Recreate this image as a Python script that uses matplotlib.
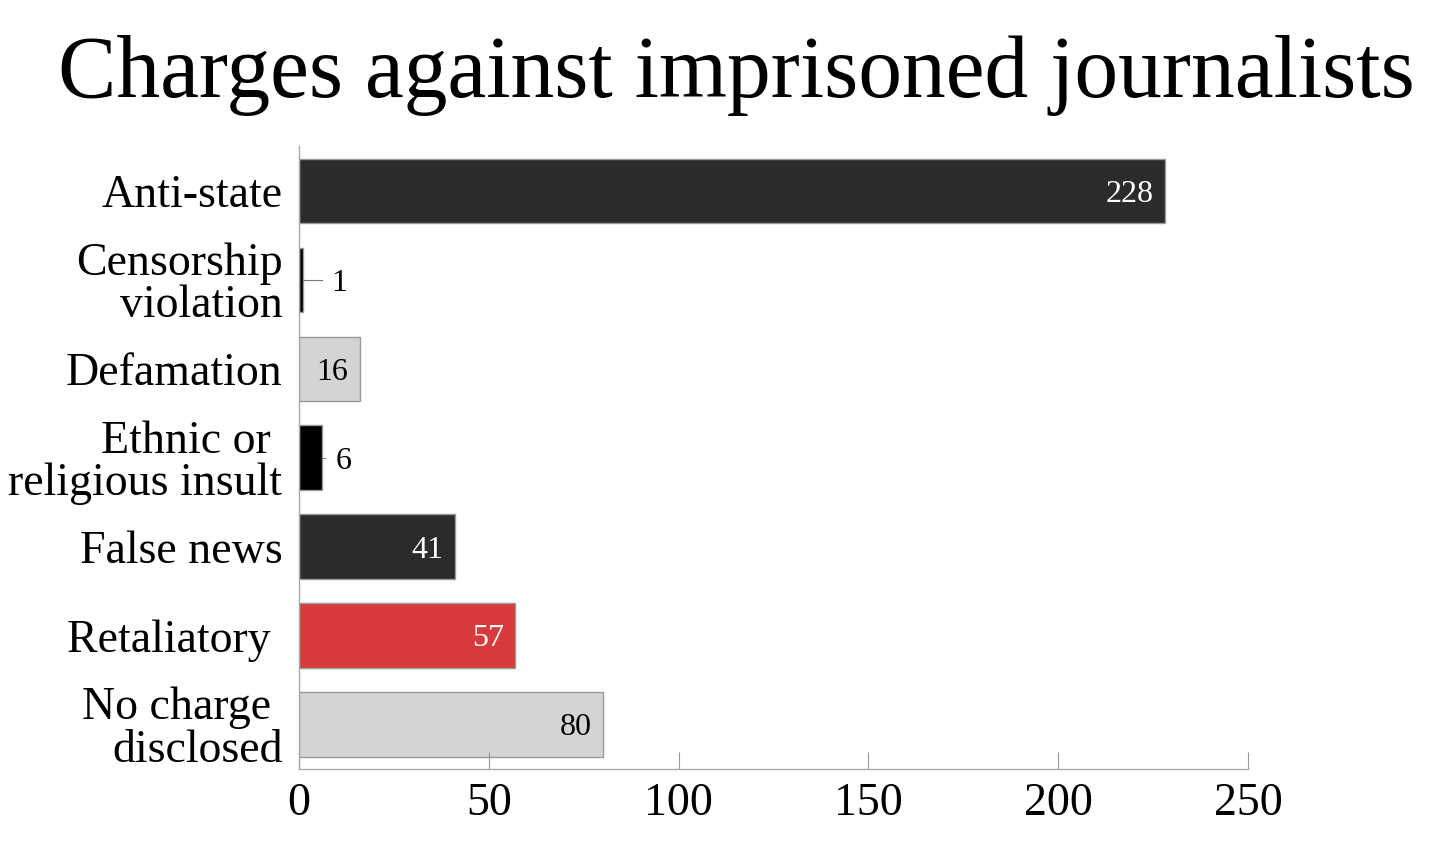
import matplotlib
matplotlib.use("Agg")
import matplotlib.pyplot as plt

# data
categories = ["Anti-state", "Censorship\nviolation", "Defamation", "Ethnic or \nreligious insult",
              "False news", "Retaliatory ", "No charge \ndisclosed"]
counts = [228, 1, 16, 6, 41, 57, 80]
bar_colors = ["#2b2b2b", "#000000", "#d4d4d4", "#000000", "#2b2b2b", "#d63a3a", "#d4d4d4"]
text_colors = ["white", "black", "black", "black", "white", "white", "black"]
x_ticks = [0, 50, 100, 150, 200, 250]

plt.rcParams["font.family"] = ["Liberation Serif", "DejaVu Serif"]

fig = plt.figure(figsize=(14.56, 8.44), dpi=100)
ax = fig.add_axes([0.2054, 0.0889, 0.6518, 0.738])

y = list(range(len(categories)))
ax.barh(y, counts, height=0.72, color=bar_colors, edgecolor="#999999", linewidth=1.0)

for i, v in enumerate(counts):
    if v >= 15:
        ax.text(v - 3, i, str(v), ha="right", va="center_baseline", fontsize=23, color=text_colors[i])
    else:
        end = max(v + 0.8, 6)
        ax.plot([v, end], [i, i], color="#777777", lw=0.8)
        ax.text(max(v + 3.5, 8.5), i, str(v), ha="left", va="center_baseline", fontsize=23, color="black")

ax.set_ylim(6.5, -0.5)
ax.set_xlim(0, 250)
ax.set_yticks(y)
ax.set_yticklabels(categories, fontsize=33, linespacing=1.0)
ax.set_xticks(x_ticks)
ax.set_xticklabels([str(t) for t in x_ticks], fontsize=33)
ax.tick_params(axis="y", length=0, pad=12)
ax.tick_params(axis="x", direction="in", length=12, color="#999999", pad=10)

for side in ["top", "right"]:
    ax.spines[side].set_visible(False)
for side in ["left", "bottom"]:
    ax.spines[side].set_color("#aaaaaa")
    ax.spines[side].set_linewidth(1.0)

fig.text(0.506, 0.91, "Charges against imprisoned journalists", ha="center", va="center", fontsize=63)

fig.savefig("out.png", dpi=100)
